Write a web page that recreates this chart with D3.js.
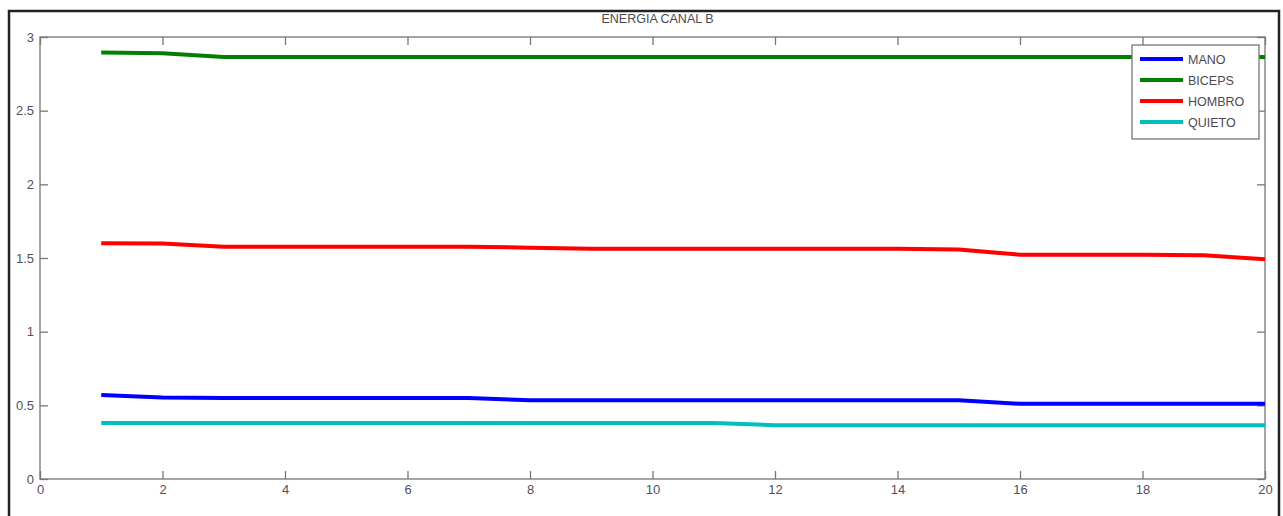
<!DOCTYPE html>
<html>
<head>
<meta charset="utf-8">
<script src="https://cdn.jsdelivr.net/npm/d3@7"></script>
<style>
  html, body { margin: 0; padding: 0; background: #fff; }
  svg { display: block; }
  text { font-family: "Liberation Sans", Arial, sans-serif; }
</style>
</head>
<body>
<svg id="chart" width="1283" height="516"></svg>
<script>
// Sample index (1..20) and per-series energy values
const samples = d3.range(1, 21);
const mano    = [0.57, 0.553, 0.55, 0.55, 0.55, 0.55, 0.55, 0.535, 0.535, 0.535, 0.535, 0.535, 0.535, 0.535, 0.535, 0.51, 0.51, 0.51, 0.51, 0.51];
const biceps  = [2.895, 2.89, 2.865, 2.865, 2.865, 2.865, 2.865, 2.865, 2.865, 2.865, 2.865, 2.865, 2.865, 2.865, 2.865, 2.865, 2.865, 2.865, 2.865, 2.865];
const hombro  = [1.60, 1.598, 1.577, 1.577, 1.577, 1.577, 1.577, 1.57, 1.562, 1.562, 1.562, 1.562, 1.562, 1.562, 1.558, 1.522, 1.522, 1.522, 1.518, 1.492];
const quieto  = [0.38, 0.38, 0.38, 0.38, 0.38, 0.38, 0.38, 0.38, 0.38, 0.38, 0.38, 0.365, 0.365, 0.365, 0.365, 0.365, 0.365, 0.365, 0.365, 0.365];

const seriesNames  = ["MANO", "BICEPS", "HOMBRO", "QUIETO"];
const seriesValues = [mano, biceps, hombro, quieto];
const seriesColors = ["#0000ff", "#008000", "#ff0000", "#00bfbf"];

const xTicks = [0, 2, 4, 6, 8, 10, 12, 14, 16, 18, 20];
const yTicks = [0, 0.5, 1, 1.5, 2, 2.5, 3];
const title = "ENERGIA CANAL B";

const svg = d3.select("#chart");
const plot = { left: 40, right: 1265, top: 37, bottom: 479 };

const x = d3.scaleLinear().domain([0, 20]).range([plot.left, plot.right]);
const y = d3.scaleLinear().domain([0, 3]).range([plot.bottom, plot.top]);

// Outer figure frame
svg.append("rect")
  .attr("x", 9).attr("y", 11)
  .attr("width", 1270).attr("height", 530)
  .attr("fill", "none").attr("stroke", "#222").attr("stroke-width", 2.5);

// Title
svg.append("text")
  .attr("x", (plot.left + plot.right) / 2 + 5).attr("y", 23)
  .attr("text-anchor", "middle")
  .attr("font-size", 12.5).attr("fill", "#4a4a55")
  .text(title);

// Axes box
svg.append("rect")
  .attr("x", plot.left).attr("y", plot.top)
  .attr("width", plot.right - plot.left).attr("height", plot.bottom - plot.top)
  .attr("fill", "#fff").attr("stroke", "#888").attr("stroke-width", 1.5);

const tickLen = 8;
const styleAxis = g => {
  g.select(".domain").remove();
  g.selectAll(".tick line").attr("stroke", "#777").attr("stroke-width", 1.3);
  g.selectAll(".tick text").attr("fill", "#505060").attr("font-size", 13)
    .attr("font-family", "'Liberation Sans', Arial, sans-serif");
};

// Bottom axis with inward ticks
svg.append("g").attr("transform", `translate(0,${plot.bottom})`)
  .call(d3.axisBottom(x).tickValues(xTicks).tickFormat(d3.format("d")).tickSizeInner(-tickLen).tickSizeOuter(0).tickPadding(6))
  .call(styleAxis);
// Top axis (ticks only)
svg.append("g").attr("transform", `translate(0,${plot.top})`)
  .call(d3.axisTop(x).tickValues(xTicks).tickFormat("").tickSizeInner(-tickLen).tickSizeOuter(0))
  .call(styleAxis);
// Left axis
svg.append("g").attr("transform", `translate(${plot.left},0)`)
  .call(d3.axisLeft(y).tickValues(yTicks).tickFormat(d => d3.format("")(d)).tickSizeInner(-tickLen).tickSizeOuter(0).tickPadding(6))
  .call(styleAxis);
// Right axis (ticks only)
svg.append("g").attr("transform", `translate(${plot.right},0)`)
  .call(d3.axisRight(y).tickValues(yTicks).tickFormat("").tickSizeInner(-tickLen).tickSizeOuter(0))
  .call(styleAxis);

// Series lines
const line = d3.line().x((d, i) => x(samples[i])).y(d => y(d));
seriesValues.forEach((vals, k) => {
  svg.append("path")
    .datum(vals)
    .attr("d", line)
    .attr("fill", "none")
    .attr("stroke", seriesColors[k])
    .attr("stroke-width", 4)
    .attr("stroke-linejoin", "round");
});

// Legend
const lg = svg.append("g").attr("transform", "translate(1132,45)");
lg.append("rect")
  .attr("width", 127).attr("height", 94)
  .attr("fill", "#fff").attr("stroke", "#777").attr("stroke-width", 1.3);
seriesNames.forEach((name, k) => {
  const yy = 14 + k * 21;
  lg.append("line")
    .attr("x1", 8).attr("x2", 51).attr("y1", yy).attr("y2", yy)
    .attr("stroke", seriesColors[k]).attr("stroke-width", 4);
  lg.append("text")
    .attr("x", 56).attr("y", yy + 4.5)
    .attr("font-size", 12.5).attr("fill", "#4a4a55")
    .text(name);
});
</script>
</body>
</html>
